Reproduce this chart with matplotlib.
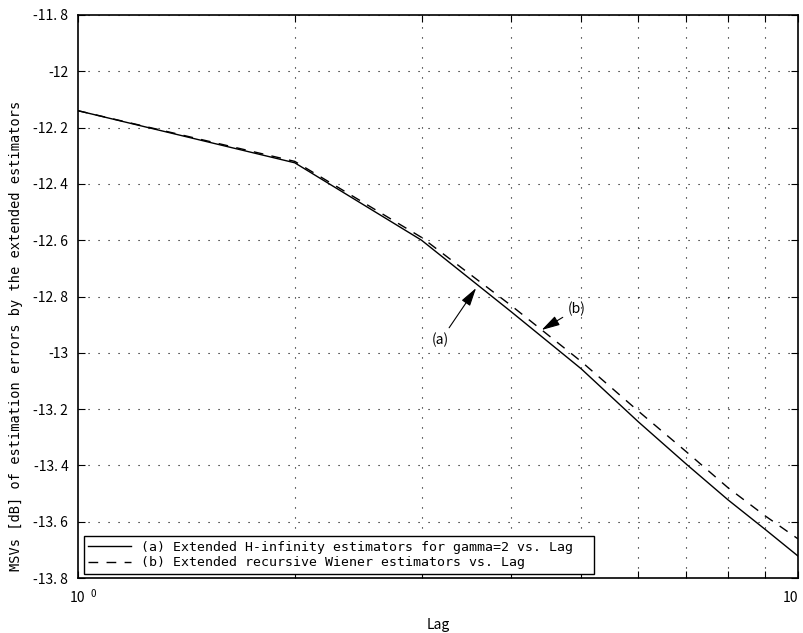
import matplotlib
matplotlib.use("Agg")
import matplotlib.pyplot as plt
from matplotlib.ticker import FixedLocator, NullFormatter
from matplotlib.transforms import offset_copy

lags = [1, 2, 3, 4, 5, 6, 7, 8, 9, 10]
msv_hinf = [-12.14, -12.325, -12.60, -12.855, -13.057, -13.245, -13.396, -13.523, -13.627, -13.722]
msv_wiener = [-12.14, -12.32, -12.59, -12.833, -13.031, -13.207, -13.352, -13.480, -13.579, -13.661]
yticks = [-11.8, -12.0, -12.2, -12.4, -12.6, -12.8, -13.0, -13.2, -13.4, -13.6, -13.8]
ytick_labels = ["-11. 8", "-12", "-12. 2", "-12. 4", "-12. 6", "-12. 8", "-13", "-13. 2", "-13. 4", "-13. 6", "-13. 8"]
legend_labels = ["(a) Extended H-infinity estimators for gamma=2 vs. Lag  ",
                 "(b) Extended recursive Wiener estimators vs. Lag"]

mono = ["DejaVu Sans Mono"]
tickfont = ["Noto Sans CJK JP", "DejaVu Sans"]

fig = plt.figure(figsize=(8.04, 6.33), dpi=100)
ax = fig.add_axes([78/804, 1-578/633, (798-78)/804, (578-15)/633])

ax.plot(lags, msv_hinf, color="black", lw=1.0, ls="-", label=legend_labels[0])
ax.plot(lags, msv_wiener, color="black", lw=1.0, ls=(0, (7, 6)), label=legend_labels[1])

ax.set_xscale("log")
ax.set_xlim(1, 10)
ax.set_ylim(-13.8, -11.8)

ax.xaxis.set_major_locator(FixedLocator([1, 10]))
ax.set_xticklabels(["10", "10"], fontfamily=tickfont, fontsize=10)
ax.get_xticklabels()[1].set_horizontalalignment("right")
ax.xaxis.set_minor_locator(FixedLocator([2, 3, 4, 5, 6, 7, 8, 9]))
ax.xaxis.set_minor_formatter(NullFormatter())
ax.set_yticks(yticks)
ax.set_yticklabels(ytick_labels, fontfamily=tickfont, fontsize=10)

ax.tick_params(axis="both", which="both", direction="in", top=True, right=True, length=5, width=0.8)
ax.tick_params(axis="x", which="major", pad=9)
ax.tick_params(axis="y", which="major", pad=7)

ax.grid(True, which="minor", axis="x", color="black", ls=(0, (1, 8)), lw=0.8)
ax.grid(True, which="major", axis="y", color="black", ls=(0, (1, 8)), lw=0.8)

for s in ax.spines.values():
    s.set_linewidth(1.2)

# superscript of the first x tick label
sup_tr = offset_copy(ax.get_xaxis_transform(), fig=fig, x=9, y=-8, units="points")
ax.text(1.0, 0, "0", transform=sup_tr, fontsize=7, fontfamily=tickfont, ha="left", va="top")

ax.set_xlabel("Lag", fontfamily=tickfont, fontsize=10, labelpad=10)
ax.set_ylabel("MSVs [dB] of estimation errors by the extended estimators",
              fontfamily=mono, fontsize=9.8)
ax.yaxis.set_label_coords(-0.077, 0.43)

# annotations
arrow = dict(arrowstyle="-|>,head_length=0.8,head_width=0.22", color="black", lw=0.8,
             mutation_scale=14, shrinkA=2, shrinkB=0)
ax.annotate("(a)", xy=(3.572, -12.770), xytext=(3.19, -12.955),
            fontsize=10, fontfamily=tickfont, ha="center", va="center", arrowprops=arrow)
ax.annotate("(b)", xy=(4.405, -12.919), xytext=(4.93, -12.844),
            fontsize=10, fontfamily=tickfont, ha="center", va="center", arrowprops=arrow)

leg = ax.legend(loc="lower left", bbox_to_anchor=(0.008, 0.007), frameon=True, fancybox=False,
                edgecolor="black", framealpha=1, prop={"family": mono, "size": 9.5},
                handlelength=3.2, borderpad=0.35, labelspacing=0.2, borderaxespad=0)
leg.get_frame().set_linewidth(1.0)

fig.savefig("out.png", dpi=100)
